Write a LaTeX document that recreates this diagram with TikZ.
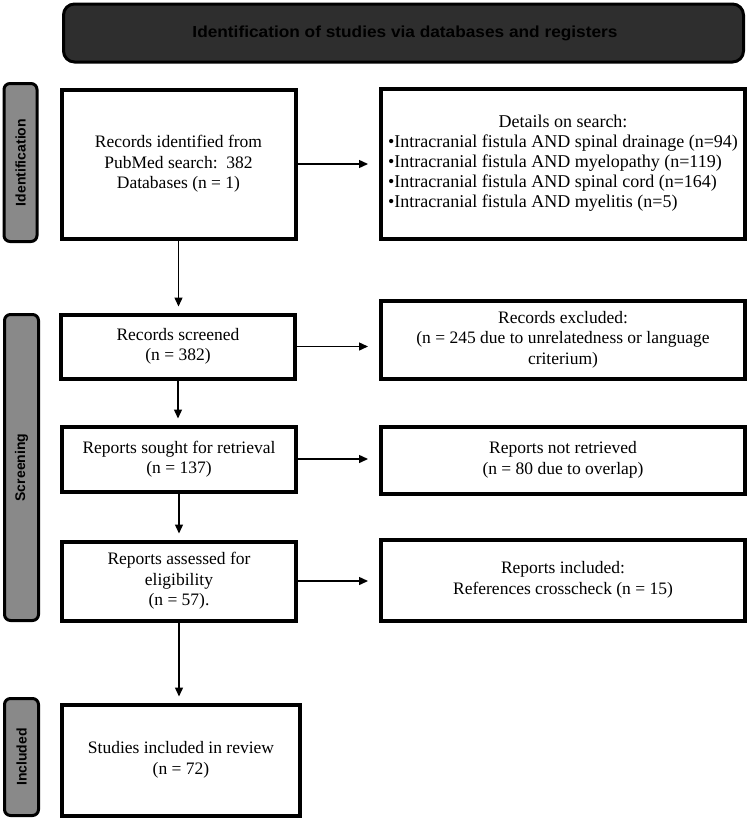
\documentclass[tikz,border=0pt]{standalone}
\usepackage{fontspec}
\setmainfont{Liberation Serif}
\newfontfamily\hdrfont{Liberation Sans}
\usetikzlibrary{arrows.meta}
\definecolor{hdrgray}{HTML}{2E2E2E}
\definecolor{tabgray}{HTML}{898989}
\tikzset{
  box/.style={draw=black, line width=4pt, fill=white, inner sep=0pt, align=center,
    font=\fontsize{17.5}{20.5}\selectfont},
  tab/.style={draw=black, line width=3pt, fill=tabgray, rounded corners=6pt, inner sep=0pt},
  tablabel/.style={rotate=90, font=\hdrfont\bfseries\fontsize{14}{16}\selectfont, text=black},
  arr/.style={draw=black, line width=1.4pt, -{Triangle[length=9pt,width=8pt]}},
}
\begin{document}
\begin{tikzpicture}[x=1pt,y=-1pt]
\useasboundingbox (0,0) rectangle (749,819);
% header
\node[draw=black, line width=3pt, fill=hdrgray, rounded corners=11pt, minimum width=680pt, minimum height=58pt, inner sep=0pt] (hdr) at (403.5,33) {};
\node[font=\hdrfont\bfseries\fontsize{16}{18}\selectfont, text=black] (hdrtext) at (405,33) {\resizebox{425pt}{\height}{Identification of studies via databases and registers}};
% side tabs
\node[tab, minimum width=33pt, minimum height=158pt] (tabI) at (20.5,162.5) {};
\node[tablabel] (tabIt) at (tabI.center) {Identification};
\node[tab, minimum width=34pt, minimum height=306pt] (tabS) at (21.5,467.5) {};
\node[tablabel] (tabSt) at (tabS.center) {Screening};
\node[tab, minimum width=34pt, minimum height=117pt] (tabC) at (21.5,757) {};
\node[tablabel] (tabCt) at (tabC.center) {Included};
% left column
\node[box, minimum width=234pt, minimum height=149pt] (b1) at (178.5,164) {Records identified from\\PubMed search:\ \ 382\\Databases (n = 1)};
\node[box, minimum width=234pt, minimum height=64pt] (b2) at (178,346.5) {Records screened\\(n = 382)};
\node[box, minimum width=234pt, minimum height=65pt] (b3) at (179,459) {Reports sought for retrieval\\(n = 137)};
\node[box, minimum width=234pt, minimum height=79pt] (b4) at (179,581) {Reports assessed for\\eligibility\\(n = 57).};
\node[box, minimum width=238pt, minimum height=111pt] (b5) at (181,760) {Studies included in review\\(n = 72)};
% right column
\node[box, minimum width=364pt, minimum height=150pt, font=\fontsize{18}{20}\selectfont] (d1) at (563,163.5) {\begin{tabular}{@{}l@{}}\multicolumn{1}{@{}c@{}}{Details on search:}\\
\textbullet Intracranial fistula AND spinal drainage (n=94)\\
\textbullet Intracranial fistula AND myelopathy (n=119)\\
\textbullet Intracranial fistula AND spinal cord (n=164)\\
\textbullet Intracranial fistula AND myelitis (n=5)\end{tabular}};
\node[box, minimum width=364pt, minimum height=78pt] (r2) at (563,339.5) {Records excluded:\\(n = 245 due to unrelatedness or language\\criterium)};
\node[box, minimum width=364pt, minimum height=67pt] (r3) at (563,460) {Reports not retrieved\\(n = 80 due to overlap)};
\node[box, minimum width=364pt, minimum height=81pt] (r4) at (563,580) {Reports included:\\References crosscheck (n = 15)};
% arrows
\draw[arr, shorten >=6pt] (b1.south) -- (b1.south |- b2.north);
\draw[arr, shorten >=6pt] (b2.south) -- (b2.south |- b3.north);
\draw[arr, shorten >=6pt] (b3.south) -- (b3.south |- b4.north);
\draw[arr, shorten >=6pt] (b4.south) -- (b4.south |- b5.north);
\draw[arr, shorten >=11pt] (b1.east) -- (b1.east -| d1.west);
\draw[arr, shorten >=11pt] (b2.east) -- (b2.east -| r2.west);
\draw[arr, shorten >=11pt] (b3.east) -- (b3.east -| r3.west);
\draw[arr, shorten >=11pt] (b4.east) -- (b4.east -| r4.west);
\end{tikzpicture}
\end{document}
